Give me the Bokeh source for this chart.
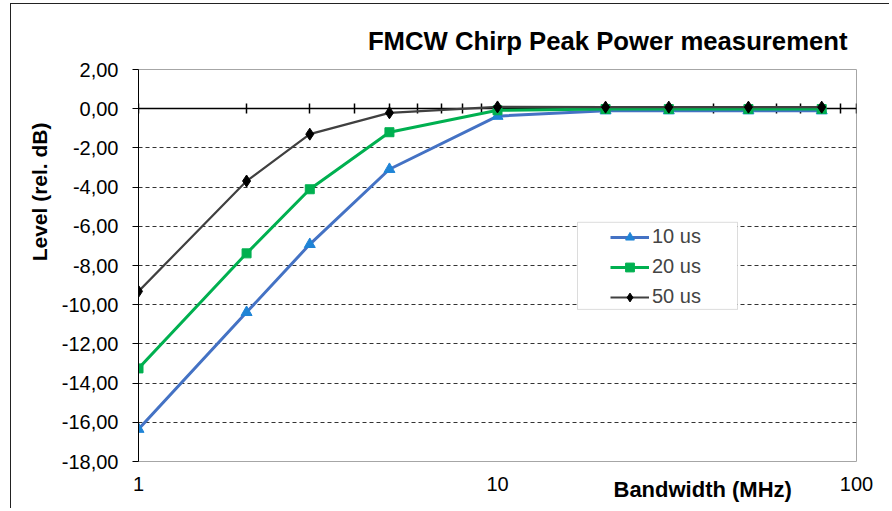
import math
from bokeh.plotting import figure
from bokeh.models import (FixedTicker, LogAxis, Legend, LegendItem, Title,
                          Range1d, BoxAnnotation)
from bokeh.embed import file_html
from bokeh.resources import INLINE

# ---------------- data ----------------
bandwidth = [1, 2, 3, 5, 10, 20, 30, 50, 80]
level_10us = [-16.35, -10.39, -6.92, -3.09, -0.38, -0.10, -0.10, -0.10, -0.10]
level_20us = [-13.25, -7.38, -4.11, -1.20, -0.08, -0.02, -0.02, -0.02, -0.02]
level_50us = [-9.32, -3.69, -1.30, -0.21, 0.09, 0.08, 0.08, 0.08, 0.08]

series_names = ["10 us", "20 us", "50 us"]

y_ticks = [-18, -16, -14, -12, -10, -8, -6, -4, -2, 0, 2]
y_tick_labels = ["-18,00", "-16,00", "-14,00", "-12,00", "-10,00", "-8,00",
                 "-6,00", "-4,00", "-2,00", "0,00", "2,00"]
x_ticks = [1, 10, 100]
x_tick_labels = ["1", "10", "100"]
x_minor_ticks = [2, 3, 4, 5, 6, 7, 8, 9, 20, 30, 40, 50, 60, 70, 80, 90]

title_text = "FMCW Chirp Peak Power measurement"
x_title = "Bandwidth (MHz)"
y_title = "Level (rel. dB)"

FONT = "Liberation Sans"

p = figure(width=879, height=505, x_axis_type="log",
           x_range=Range1d(1, 100), y_range=Range1d(-18, 2),
           output_backend="svg", toolbar_location=None,
           min_border_left=127, min_border_right=34,
           min_border_top=65, min_border_bottom=48)
p.styles = {"margin-left": "10px", "margin-top": "3px",
            "border-left": "1px solid #222222", "border-top": "1px solid #222222"}
p.background_fill_color = "white"
p.border_fill_color = "white"
p.outline_line_color = "#a6a6a6"
p.outline_line_width = 1

# chart title
p.title = Title(text=title_text, align="right", offset=9, standoff=29,
                text_font=FONT, text_font_style="bold", text_font_size="25.7px",
                text_color="black")

# bottom axis: only tick labels
xa = p.xaxis[0]
xa.ticker = FixedTicker(ticks=x_ticks, minor_ticks=[])
xa.major_label_overrides = {t: l for t, l in zip(x_ticks, x_tick_labels)}
xa.major_tick_in = 0
xa.major_tick_out = 0
xa.minor_tick_in = 0
xa.minor_tick_out = 0
xa.axis_line_color = None
xa.major_label_standoff = 15
xa.major_label_text_font = FONT
xa.major_label_text_font_size = "20px"
xa.major_label_text_color = "black"

# axis drawn across y = 0 with ticks
zero_axis = LogAxis(ticker=FixedTicker(ticks=x_ticks, minor_ticks=x_minor_ticks),
                    fixed_location=0, major_label_text_color=None,
                    axis_line_color="black", axis_line_width=1.5,
                    major_tick_in=5, major_tick_out=5,
                    minor_tick_in=5, minor_tick_out=5,
                    major_tick_line_color="black", minor_tick_line_color="black",
                    major_tick_line_width=1.5, minor_tick_line_width=1.5,
                    level="underlay")
p.add_layout(zero_axis, "below")

# x axis title, in the tick-label row, right of centre
p.add_layout(Title(text=x_title, align="left", offset=475, standoff=-34,
                   vertical_align="top",
                   text_font=FONT, text_font_style="bold", text_font_size="22px",
                   text_color="black"), "below")

# y axis
ya = p.yaxis[0]
ya.ticker = FixedTicker(ticks=y_ticks, minor_ticks=[])
ya.major_label_overrides = {t: l for t, l in zip(y_ticks, y_tick_labels)}
ya.major_tick_in = 0
ya.major_tick_out = 6
ya.minor_tick_in = 0
ya.minor_tick_out = 0
ya.axis_line_color = "black"
ya.axis_line_width = 1
ya.major_tick_line_color = "black"
ya.major_label_standoff = 14
ya.major_label_text_font = FONT
ya.major_label_text_font_size = "20px"
ya.major_label_text_color = "black"

# y axis title (left panel, near the top)
p.add_layout(Title(text=y_title, align="right", offset=53, standoff=16,
                   text_font=FONT, text_font_style="bold", text_font_size="21px",
                   text_color="black"), "left")

# grid
p.xgrid.visible = False
p.ygrid[0].ticker = FixedTicker(ticks=[t for t in y_ticks if y_ticks[0] < t < y_ticks[-1] and t != 0])
p.ygrid.grid_line_color = "#333333"
p.ygrid.grid_line_dash = "4 3"
p.ygrid.grid_line_width = 1

# series
l1 = p.line(bandwidth, level_10us, line_color="#4472C4", line_width=3)
m1 = p.scatter(bandwidth, level_10us, marker="triangle", size=11,
               fill_color="#1f84d6", line_color="#1f84d6")
l2 = p.line(bandwidth, level_20us, line_color="#00B050", line_width=3)
m2 = p.scatter(bandwidth, level_20us, marker="square", size=9,
               fill_color="#00B050", line_color="#00B050")
l3 = p.line(bandwidth, level_50us, line_color="#404040", line_width=2.2)
m3 = p.scatter(bandwidth, level_50us, marker="diamond", size=12,
               fill_color="black", line_color="black")

# legend frame (white box with grey border)
def xdata(px):
    return 10 ** ((px - 138) / 359.0)

def ydata(py):
    return (108.5 - py) / 19.58

box = BoxAnnotation(left=xdata(577), right=xdata(737), top=ydata(222), bottom=ydata(309),
                    fill_color="white", fill_alpha=1.0,
                    line_color="#8c8c8c", line_width=1)
p.add_layout(box)

legend = Legend(items=[LegendItem(label=series_names[0], renderers=[l1, m1]),
                       LegendItem(label=series_names[1], renderers=[l2, m2]),
                       LegendItem(label=series_names[2], renderers=[l3, m3])],
                location=(472, 153), border_line_color=None,
                background_fill_alpha=0.0,
                label_text_font=FONT, label_text_font_size="20px",
                glyph_width=39, glyph_height=22, label_height=22,
                spacing=7, padding=3, label_standoff=3, margin=0)
p.add_layout(legend)

open("out.html", "w").write(file_html(p, INLINE))
